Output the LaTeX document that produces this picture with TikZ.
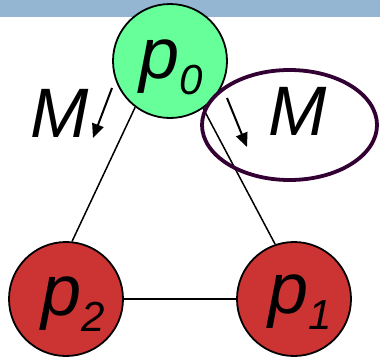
\documentclass[tikz,border=0pt]{standalone}
\usepackage{fontspec}
\setmainfont{Liberation Sans}
\usetikzlibrary{arrows.meta,shapes.geometric}
\definecolor{band}{HTML}{94B6D3}
\definecolor{pgreen}{HTML}{66FF99}
\definecolor{pred}{HTML}{CC3333}
\definecolor{ellcol}{HTML}{330033}
\tikzset{
  proc/.style={circle,draw=black,line width=1.8pt,minimum size=114pt,inner sep=0pt},
  lab/.style={anchor=base west,inner sep=0pt,font=\fontsize{72}{72}\selectfont\itshape},
  mlab/.style={anchor=base west,inner sep=0pt,font=\fontsize{70}{70}\selectfont\itshape},
  edge/.style={line width=1.5pt},
  marr/.style={line width=2pt,-{Triangle[length=14pt,width=12pt]}}
}
\newcommand{\sbs}[1]{\raisebox{-16pt}{\fontsize{42}{42}\selectfont #1}}
\begin{document}
\begin{tikzpicture}[x=1pt,y=-1pt]
\useasboundingbox (0,0) rectangle (380,359);
\fill[band] (0,0) rectangle (380,17);
\node[proc,fill=pgreen] (p0) at (170,61) {};
\node[proc,fill=pred] (p2) at (66,299) {};
\node[proc,fill=pred] (p1) at (294,299) {};
\draw[edge] (p0.233) -- (p2.84);
\draw[edge] (p0.305) -- (p1.109);
\draw[edge] (p2.east) -- (p1.west);
\node[lab] (t0) at (139,78) {p\sbs{0}};
\node[lab] (t2) at (41,315) {p\sbs{2}};
\node[lab] (t1) at (268,313) {p\sbs{1}};
\node[mlab] (m1) at (30,137) {M};
\node[mlab] (m2) at (268,135) {M};
\coordinate (a1s) at (112,88);
\coordinate (a1e) at (93,138);
\coordinate (a2s) at (227,98);
\coordinate (a2e) at (247,147);
\draw[marr] (a1s) -- (a1e);
\draw[marr] (a2s) -- (a2e);
\node[ellipse,draw=ellcol,line width=3.8pt,minimum width=175pt,minimum height=110pt,inner sep=0pt] (ell) at (289.5,125) {};
\end{tikzpicture}
\end{document}
